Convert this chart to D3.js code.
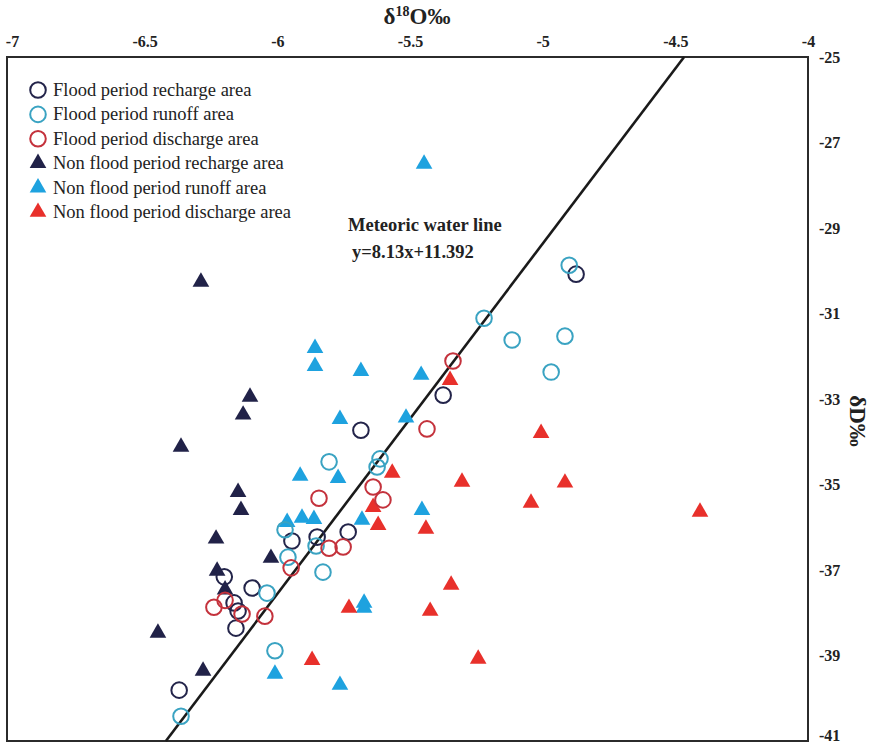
<!DOCTYPE html>
<html><head><meta charset="utf-8">
<script src="https://cdn.jsdelivr.net/npm/d3@7/dist/d3.min.js"></script>
<style>body{margin:0;background:#fff}svg{display:block}</style>
</head><body>
<svg id="c" width="872" height="748"></svg>
<script>
// ---- data ----
const xTicks = [-7, -6.5, -6, -5.5, -5, -4.5, -4];
const yTicks = [-25, -27, -29, -31, -33, -35, -37, -39, -41];
const seriesNames = ["Flood period recharge area","Flood period runoff area","Flood period discharge area",
  "Non flood period recharge area","Non flood period runoff area","Non flood period discharge area"];
const floodRecharge = [[-4.874,-30.08],[-5.375,-32.91],[-5.685,-33.73],[-5.733,-36.11],[-5.85,-36.23],
  [-5.945,-36.32],[-6.2,-37.16],[-6.095,-37.42],[-6.163,-37.77],[-6.148,-37.96],[-6.156,-38.36],[-6.37,-39.81]];
const floodRunoff = [[-4.90,-29.87],[-5.221,-31.11],[-5.115,-31.62],[-4.916,-31.53],[-4.968,-32.37],
  [-5.805,-34.47],[-5.613,-34.40],[-5.624,-34.59],[-5.971,-36.06],[-5.854,-36.44],[-5.96,-36.70],
  [-5.828,-37.05],[-6.039,-37.54],[-6.009,-38.89],[-6.363,-40.42]];
const floodDischarge = [[-5.338,-32.11],[-5.436,-33.70],[-5.843,-35.32],[-5.639,-35.06],[-5.602,-35.36],
  [-5.805,-36.49],[-5.752,-36.46],[-5.948,-36.95],[-6.239,-37.87],[-6.197,-37.71],[-6.133,-38.03],[-6.047,-38.08]];
const nonFloodRecharge = [[-6.288,-30.26],[-6.103,-32.95],[-6.129,-33.37],[-6.363,-34.12],[-6.148,-35.18],
  [-6.137,-35.60],[-6.231,-36.27],[-6.024,-36.72],[-6.227,-37.02],[-6.197,-37.46],[-6.45,-38.47],[-6.28,-39.36]];
const nonFloodRunoff = [[-5.447,-27.50],[-5.858,-31.81],[-5.858,-32.23],[-5.685,-32.35],[-5.458,-32.44],
  [-5.515,-33.44],[-5.764,-33.47],[-5.914,-34.80],[-5.771,-34.85],[-5.455,-35.60],[-5.681,-35.83],
  [-5.963,-35.88],[-5.907,-35.78],[-5.862,-35.81],[-5.673,-37.77],[-5.673,-37.89],[-6.009,-39.43],[-5.764,-39.69]];
const nonFloodDischarge = [[-5.349,-32.56],[-5.567,-34.73],[-5.304,-34.94],[-5.006,-33.80],[-4.916,-34.96],
  [-5.044,-35.43],[-4.407,-35.64],[-5.639,-35.53],[-5.62,-35.95],[-5.44,-36.04],[-5.345,-37.35],
  [-5.73,-37.89],[-5.424,-37.96],[-5.243,-39.08],[-5.869,-39.11]];
// meteoric water line y = 8.13x + 11.392 (end points as drawn)
const mwlLine = [[-4.467,-25],[-6.42,-41]];

// ---- chart ----
const svg = d3.select("#c");
const serif = "'Liberation Serif','Times New Roman',serif";
const x = d3.scaleLinear().domain([-7,-4]).range([12,808]);
const y = d3.scaleLinear().domain([-25,-41]).range([57,741]);

const styles = [
  {shape:"circle", color:"#23244a"},
  {shape:"circle", color:"#3aa3c2"},
  {shape:"circle", color:"#c4323c"},
  {shape:"tri", color:"#212248"},
  {shape:"tri", color:"#1ea2df"},
  {shape:"tri", color:"#e8302b"}
];
const allSeries = [floodRecharge, floodRunoff, floodDischarge, nonFloodRecharge, nonFloodRunoff, nonFloodDischarge];

// frame
svg.append("rect").attr("x",7).attr("y",y(-25)).attr("width",x(-4)-7).attr("height",y(-41)-y(-25))
  .attr("fill","none").attr("stroke","#2b2b2b").attr("stroke-width",2);

// axes
const gx = svg.append("g").attr("transform",`translate(0,${y(-25)-10})`)
  .call(d3.axisTop(x).tickValues(xTicks).tickSize(0).tickPadding(0).tickFormat(d=>String(d)));
gx.select(".domain").remove();
gx.selectAll("text").attr("font-family",serif).attr("font-size",16).attr("font-weight","bold").attr("fill","#222");

const gy = svg.append("g").attr("transform",`translate(${x(-4)},0)`)
  .call(d3.axisRight(y).tickValues(yTicks).tickSize(0).tickPadding(11).tickFormat(d=>String(d)));
gy.select(".domain").remove();
gy.selectAll("text").attr("font-family",serif).attr("font-size",16).attr("font-weight","bold").attr("fill","#222");
gy.selectAll(".tick").filter(d=>d===-41).select("text").attr("dy","-0.05em");

// axis titles
const xt = svg.append("text").attr("x",417).attr("y",24).attr("text-anchor","middle")
  .attr("font-family",serif).attr("font-size",23).attr("font-weight","bold").attr("fill","#222");
xt.append("tspan").text("δ");
xt.append("tspan").attr("font-size",14).attr("dy",-8).text("18");
xt.append("tspan").attr("dy",8).text("O‰");

svg.append("text").attr("transform","translate(850,421) rotate(90)").attr("text-anchor","middle")
  .attr("font-family",serif).attr("font-size",23).attr("font-weight","bold").attr("fill","#222").text("δD‰");

// meteoric water line
svg.append("path").datum(mwlLine)
  .attr("d", d3.line().x(d=>x(d[0])).y(d=>y(d[1])))
  .attr("stroke","#1a1a1a").attr("stroke-width",2.6).attr("fill","none");

svg.append("text").attr("x",348).attr("y",231).attr("font-family",serif).attr("font-size",18.5)
  .attr("font-weight","bold").attr("fill","#222").text("Meteoric water line");
svg.append("text").attr("x",352).attr("y",258).attr("font-family",serif).attr("font-size",18.5)
  .attr("font-weight","bold").attr("fill","#222").text("y=8.13x+11.392");

const tri = d3.symbol().type(d3.symbolTriangle).size(120);
function drawMarker(g, st){
  if(st.shape==="circle"){
    g.append("circle").attr("r",7.8).attr("fill","none").attr("stroke",st.color).attr("stroke-width",2);
  } else {
    g.append("path").attr("d",tri()).attr("fill",st.color);
  }
}
// points: triangles first, circles over
const order = [3,4,5,0,1,2];
order.forEach(i=>{
  const st = styles[i];
  svg.append("g").selectAll("g").data(allSeries[i]).join("g")
    .attr("transform",d=>`translate(${x(d[0])},${y(d[1])})`)
    .each(function(){ drawMarker(d3.select(this), st); });
});

// legend
const leg = svg.append("g");
seriesNames.forEach((n,i)=>{
  const yy = 90 + i*24.4;
  const g = leg.append("g").attr("transform",`translate(38,${yy})`);
  drawMarker(g, styles[i]);
  leg.append("text").attr("x",53).attr("y",yy+6).attr("font-family",serif).attr("font-size",18.5)
    .attr("fill","#222").text(n);
});
</script>
</body></html>
